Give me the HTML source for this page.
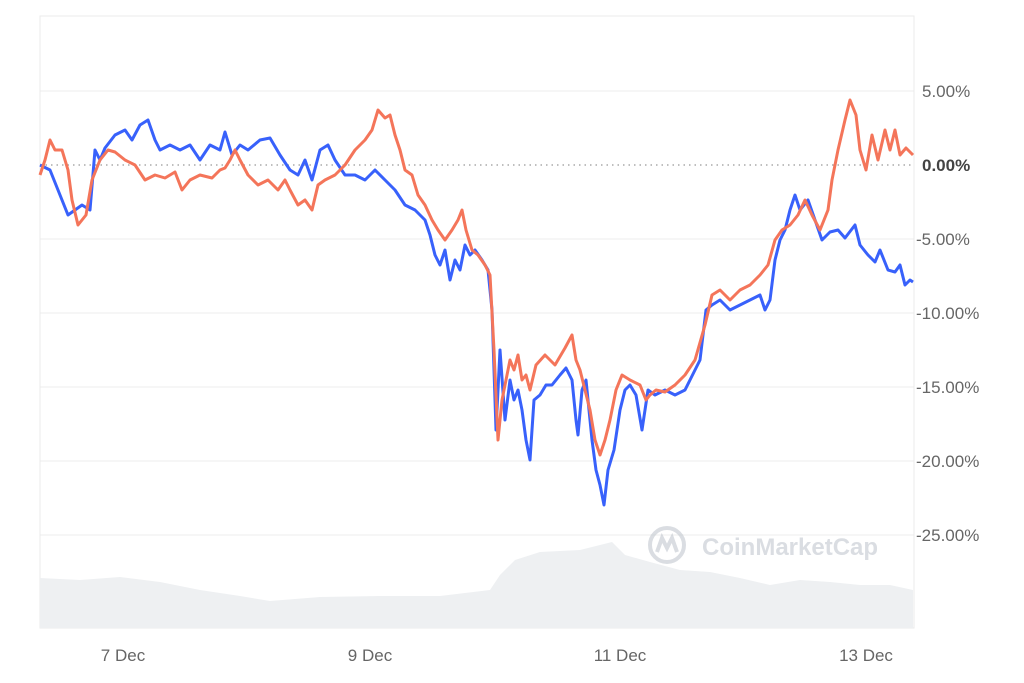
<!DOCTYPE html>
<html><head><meta charset="utf-8"><style>
html,body{margin:0;padding:0;background:#fff;width:1024px;height:683px;overflow:hidden}
text{font-family:"Liberation Sans",sans-serif}
</style></head><body>
<svg width="1024" height="683" viewBox="0 0 1024 683" xmlns="http://www.w3.org/2000/svg">
<rect x="40" y="16" width="874" height="612" fill="#fff" stroke="#ebebeb" stroke-width="1"/>
<g stroke="#ececec" stroke-width="1">
<line x1="40" y1="91" x2="914" y2="91"/>
<line x1="40" y1="239" x2="914" y2="239"/>
<line x1="40" y1="313" x2="914" y2="313"/>
<line x1="40" y1="387" x2="914" y2="387"/>
<line x1="40" y1="461" x2="914" y2="461"/>
<line x1="40" y1="535" x2="914" y2="535"/>
</g>
<line x1="40" y1="165" x2="914" y2="165" stroke="#999" stroke-width="1.3" stroke-dasharray="1.5,4"/>
<path d="M40,578 L80,580 L120,577 L160,582 L200,590 L240,596 L270,601 L320,597 L380,596 L440,596 L490,590 L500,575 L515,560 L540,552 L580,550 L612,542 L625,555 L650,562 L680,570 L710,572 L740,578 L770,585 L800,580 L830,582 L860,585 L890,585 L913,590 L913,628 L40,628 Z" fill="#eef0f2"/>
<g opacity="0.6">
<circle cx="667" cy="545" r="17" fill="none" stroke="#c3c8d0" stroke-width="4"/>
<path d="M657,552 L662,538 L667,548 L672,538 L677,552" fill="none" stroke="#c3c8d0" stroke-width="4"/>
<text x="702" y="555" font-size="24" font-weight="bold" fill="#c3c8d0">CoinMarketCap</text>
</g>
<polyline fill="none" stroke="#3861fb" stroke-width="3" stroke-linejoin="round" points="40,165 50,170 62,200 68,215 75,210 82,205 90,210 95,150 100,160 105,148 115,135 125,130 132,140 140,125 148,120 155,140 160,150 170,145 180,150 190,145 200,160 210,145 220,150 225,132 232,155 240,145 248,150 260,140 270,138 280,155 290,170 298,175 305,160 312,180 320,150 328,145 335,160 345,175 355,175 365,180 375,170 385,180 395,190 405,205 415,210 425,220 430,235 435,255 440,265 445,250 450,280 455,260 460,270 465,245 470,255 475,250 482,260 488,270 492,310 496,430 500,350 505,420 510,380 514,400 518,390 522,410 526,440 530,460 534,400 540,395 546,385 552,385 560,375 566,368 572,380 576,420 578,435 582,390 586,380 592,440 596,470 600,485 604,505 608,470 614,450 620,410 625,390 630,385 636,395 642,430 648,390 655,395 665,390 675,395 685,390 690,380 700,360 706,310 712,305 720,300 730,310 740,305 750,300 760,295 765,310 770,300 775,260 780,240 785,230 790,210 795,195 800,210 808,200 815,220 822,240 830,232 838,230 845,238 855,225 860,245 868,255 875,262 880,250 888,270 895,272 900,265 905,285 910,280 913,282"/>
<polyline fill="none" stroke="#f4755a" stroke-width="3" stroke-linejoin="round" points="40,175 45,160 50,140 55,150 62,150 68,170 72,200 78,225 82,220 86,215 92,180 100,160 108,150 115,152 125,160 135,165 145,180 155,175 165,178 175,172 182,190 190,180 200,175 212,178 220,170 225,168 230,160 235,150 240,160 248,175 258,185 268,180 278,190 285,180 290,190 298,205 305,200 312,210 318,185 325,180 335,175 345,165 355,150 365,140 372,130 378,110 385,118 390,115 395,135 400,150 405,170 412,175 418,195 425,205 432,220 438,230 445,240 452,230 458,220 462,210 466,230 472,250 478,255 485,265 490,275 494,350 498,440 502,400 506,380 510,360 514,370 518,355 522,380 526,375 530,390 536,365 545,355 555,365 565,348 572,335 576,360 580,370 585,390 590,410 595,440 600,455 605,440 610,420 616,390 622,375 630,380 640,385 646,400 650,395 656,390 665,392 675,385 685,375 695,360 705,325 712,295 720,290 730,300 740,290 750,285 760,275 768,265 775,240 782,230 790,225 798,215 805,200 812,215 820,230 828,210 832,180 838,150 845,120 850,100 856,115 860,150 866,170 872,135 878,160 885,130 890,150 895,130 900,155 906,148 913,155"/>
<g font-size="17" fill="#666">
<text x="922" y="97">5.00%</text>
<text x="922" y="171" font-weight="bold" fill="#444">0.00%</text>
<text x="916" y="245">-5.00%</text>
<text x="916" y="319">-10.00%</text>
<text x="916" y="393">-15.00%</text>
<text x="916" y="467">-20.00%</text>
<text x="916" y="541">-25.00%</text>
</g>
<g font-size="17" fill="#666" text-anchor="middle">
<text x="123" y="661">7 Dec</text>
<text x="370" y="661">9 Dec</text>
<text x="620" y="661">11 Dec</text>
<text x="866" y="661">13 Dec</text>
</g>
</svg>
</body></html>
